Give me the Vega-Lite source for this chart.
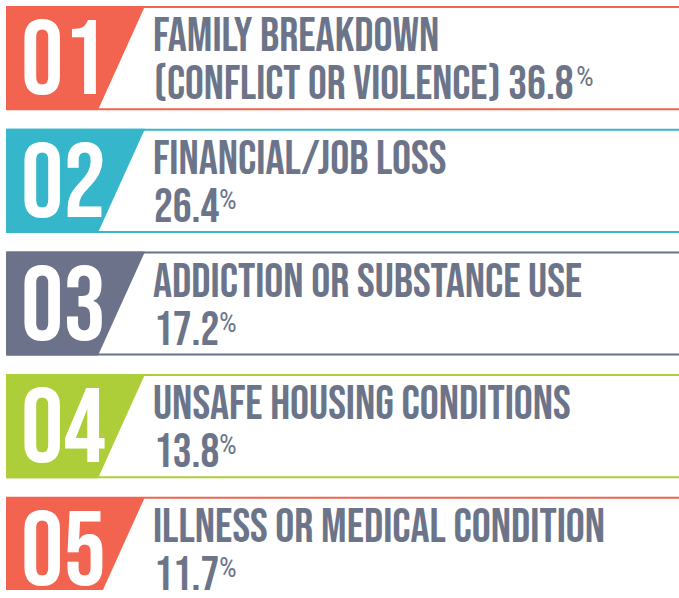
{"$schema":"https://vega.github.io/schema/vega-lite/v6.json","width":679,"height":598,"autosize":{"type":"fit","contains":"padding"},"padding":0,"background":"#ffffff","config":{"view":{"stroke":null}},
"data":{"values":[
{"rank":"01","line1":"FAMILY BREAKDOWN","line2":"(CONFLICT OR VIOLENCE)","share":36.8},
{"rank":"02","line1":"FINANCIAL/JOB LOSS","line2":"","share":26.4},
{"rank":"03","line1":"ADDICTION OR SUBSTANCE USE","line2":"","share":17.2},
{"rank":"04","line1":"UNSAFE HOUSING CONDITIONS","line2":"","share":13.8},
{"rank":"05","line1":"ILLNESS OR MEDICAL CONDITION","line2":"","share":11.7}]},
"transform":[{"calculate":"(datum.line2 ? datum.line2 + ' ' : '') + format(datum.share, '.1f')","as":"pctline"}],
"encoding":{
"y":{"field":"rank","type":"ordinal","axis":null,"scale":{"range":[7,600],"paddingInner":0.167,"paddingOuter":0}}
},
"layer":[
{"mark":{"type":"rect","fill":"#ffffff","strokeWidth":2,"clip":true},
"encoding":{"x":{"datum":7,"type":"quantitative","axis":null,"scale":{"domain":[0,679],"nice":false,"zero":false}},"x2":{"datum":760},
"stroke":{"field":"rank","type":"nominal","legend":null,"scale":{"domain":["01","02","03","04","05"],"range":["#F36450","#35B6CB","#6B7289","#ADCE38","#F36450"]}}}},
{"mark":{"type":"point","filled":true,"opacity":1,"strokeWidth":0,"size":4,"shape":"M0,-52L138,-52L91,52L0,52Z","clip":true},
"encoding":{"x":{"datum":7,"type":"quantitative"},
"color":{"field":"rank","type":"nominal","legend":null,"scale":{"domain":["01","02","03","04","05"],"range":["#F36450","#35B6CB","#6B7289","#ADCE38","#F36450"]}}}},
{"mark":{"type":"text","font":"Bebas Neue","fontSize":106,"fill":"#ffffff","align":"left","baseline":"alphabetic","dy":36},
"encoding":{"x":{"datum":21,"type":"quantitative"},"text":{"field":"rank"}}},
{"mark":{"type":"text","font":"Bebas Neue","fontSize":47.5,"fill":"#6C7489","align":"left","baseline":"alphabetic","dy":-7},
"encoding":{"x":{"datum":153,"type":"quantitative"},"text":{"field":"line1"}}},
{"mark":{"type":"text","font":"Bebas Neue","fontSize":47,"fill":"#6C7489","align":"left","baseline":"alphabetic","dy":41},
"encoding":{"x":{"datum":154,"type":"quantitative"},"text":{"field":"pctline"}}},
{"transform":[{"filter":"datum.rank != '01'"}],
"mark":{"type":"text","font":"Roboto Condensed","fontWeight":400,"fontSize":28,"fill":"#6C7489","align":"left","baseline":"alphabetic","dy":28},
"encoding":{"x":{"datum":219,"type":"quantitative"},"text":{"value":"%"}}},
{"transform":[{"filter":"datum.rank == '01'"}],
"mark":{"type":"text","font":"Roboto Condensed","fontWeight":400,"fontSize":28,"fill":"#6C7489","align":"left","baseline":"alphabetic","dy":28},
"encoding":{"x":{"datum":576,"type":"quantitative"},"text":{"value":"%"}}}
]}
